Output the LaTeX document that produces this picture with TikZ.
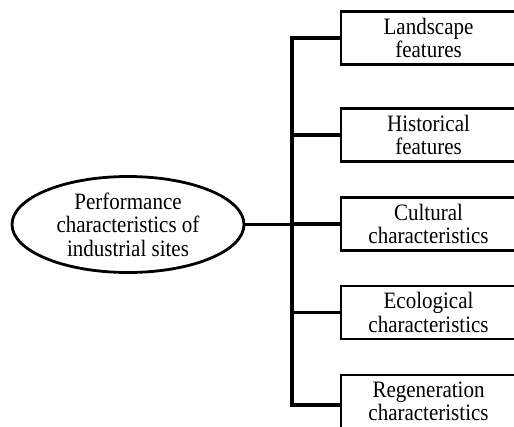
\documentclass[tikz,border=0pt]{standalone}
\usepackage{fontspec}
\setmainfont{Liberation Serif}[FakeStretch=0.894]
\usetikzlibrary{shapes.geometric}
\begin{document}
\begin{tikzpicture}[x=1pt,y=-1pt,
  txt/.style={font=\fontsize{23.5}{23.5}\selectfont, align=center},
  boxnode/.style={txt, draw, line width=2.6pt, rectangle, minimum width=175pt, minimum height=53pt, inner sep=0pt},
  ovalnode/.style={txt, draw, line width=2.8pt, ellipse, minimum width=232pt, minimum height=96pt, inner sep=0pt},
  conn/.style={line width=3.2pt}]
\useasboundingbox (0,0) rectangle (514,426);
\begin{scope}
\clip (0,0) rectangle (514,426);
\node[ovalnode] (el) at (128,224.5) {Performance\\characteristics of\\industrial sites};
\node[boxnode] (b1) at (428.5,38) {Landscape\\features};
\node[boxnode] (b2) at (428.5,135) {Historical\\features};
\node[boxnode] (b3) at (428.5,224) {Cultural\\characteristics};
\node[boxnode] (b4) at (428.5,312.5) {Ecological\\characteristics};
\node[boxnode] (b5) at (428.5,401.5) {Regeneration\\characteristics};
\coordinate (bus) at (292,224);
\coordinate (b5p) at (341,405);
\draw[conn] (b1.west) -| (bus) |- (b5p);
\draw[conn] (b2.west) -- (b2.west -| bus);
\draw[conn] (b3.west) -- (b3.west -| bus);
\draw[conn] (b4.west) -- (b4.west -| bus);
\draw[conn] (el.east) -- (el.east -| bus);
\end{scope}
\end{tikzpicture}
\end{document}
